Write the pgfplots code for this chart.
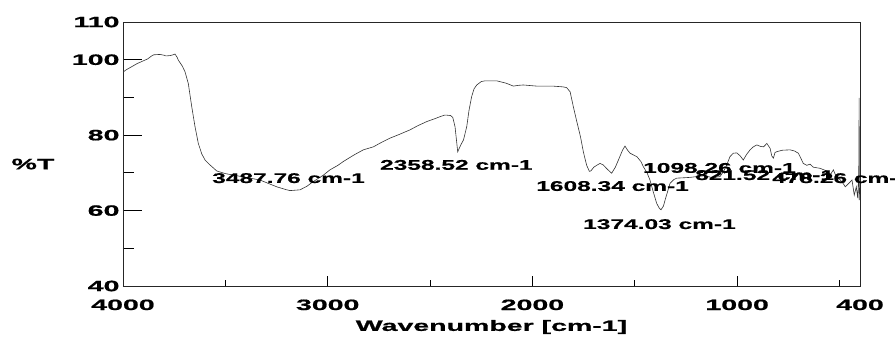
\documentclass[border=0pt]{standalone}
\usepackage{fontspec}
\setmainfont{Liberation Sans}
\newfontfamily\wf[FakeStretch=1.9,FakeBold=1]{Liberation Sans}
\newfontfamily\lf[FakeStretch=1.75,FakeBold=0.6]{Liberation Sans}
\usepackage{pgfplots}
\pgfplotsset{compat=1.18}
\begin{document}
\begin{tikzpicture}
\begin{axis}[
  scale only axis,
  width=737pt, height=264pt,
  x dir=reverse,
  xmin=400, xmax=4000, ymin=40, ymax=110,
  clip=false,
  axis line style={black!85, line width=0.8pt},
  tick style={black, line width=0.8pt},
  tick align=inside,
  xtick={4000,3000,2000,1000,400},
  xticklabels={4000,3000,2000,1000,400},
  minor xtick={3500,2500,1500,500},
  ytick={40,60,80,100,110},
  yticklabels={40,60,80,100,110},
  minor ytick={50,70,90},
  xtick style={/pgfplots/major tick length=10pt, /pgfplots/minor tick length=6pt},
  ytick style={/pgfplots/major tick length=19pt, /pgfplots/minor tick length=11pt},
  xtick pos=bottom, ytick pos=left,
  tick label style={font=\wf\bfseries\fontsize{15}{15}\selectfont},
  xticklabel style={yshift=-10pt},
  yticklabel style={xshift=0pt},
  xlabel={Wavenumber [cm-1]},
  ylabel={\%T},
  every axis x label/.style={at={(rel axis cs:0.5,0)}, yshift=-41pt, anchor=center, font=\wf\bfseries\fontsize{15}{15}\selectfont},
  every axis y label/.style={at={(rel axis cs:0,0.462)}, xshift=-90pt, anchor=center, font=\wf\bfseries\fontsize{15}{15}\selectfont},
]
\addplot[black!80, line width=0.6pt] coordinates {
(4000,96.7) (3985,97.3) (3930,99.0) (3880,100.2) (3860,101.0) (3850,101.3) (3820,101.4) (3800,101.2) (3790,101.0) (3770,101.1) (3755,101.3) (3746,101.5) (3735,100.6) (3730,99.9) (3710,98.3) (3697,96.8) (3681,93.7) (3664,87.5) (3648,82.2) (3632,77.8) (3615,75.0) (3599,73.4) (3575,72.1) (3542,70.5) (3500,69.8) (3450,69.3) (3400,68.8) (3331,68.1) (3290,67.2) (3249,66.3) (3200,65.5) (3184,65.3) (3135,65.5) (3100,66.5) (3078,67.4) (3050,68.4) (3021,69.4) (2989,70.8) (2950,72.0) (2924,73.0) (2870,74.8) (2826,76.1) (2777,76.9) (2740,78.0) (2696,79.2) (2650,80.2) (2598,81.4) (2560,82.5) (2516,83.6) (2480,84.3) (2451,84.9) (2430,85.3) (2419,85.3) (2400,85.2) (2389,84.7) (2378,82.2) (2365,75.6) (2350,77.4) (2337,78.7) (2321,82.2) (2310,86.5) (2297,90.2) (2285,92.3) (2272,93.3) (2250,94.2) (2232,94.4) (2200,94.4) (2174,94.4) (2130,93.8) (2093,93.0) (2070,93.2) (2044,93.3) (2000,93.1) (1979,93.0) (1900,93.0) (1850,92.8) (1833,92.6) (1816,91.5) (1800,87.5) (1785,84.0) (1765,79.5) (1751,75.5) (1735,72.0) (1722,70.4) (1715,70.5) (1700,71.5) (1686,72.0) (1670,72.5) (1654,72.1) (1635,71.0) (1613,69.9) (1595,71.5) (1580,73.4) (1560,76.0) (1548,77.1) (1535,76.0) (1523,75.2) (1490,74.3) (1470,73.0) (1458,71.6) (1440,70.0) (1426,68.1) (1410,65.0) (1393,61.9) (1380,60.6) (1372,60.2) (1360,61.2) (1352,62.8) (1340,65.0) (1328,67.2) (1310,68.2) (1295,68.6) (1260,68.7) (1230,68.8) (1200,69.0) (1165,69.2) (1140,69.0) (1116,68.6) (1100,68.9) (1084,69.0) (1065,70.5) (1051,72.1) (1035,74.3) (1019,75.2) (1002,75.3) (985,74.5) (970,73.4) (955,74.8) (937,76.1) (921,76.9) (904,77.4) (885,77.0) (871,76.9) (855,77.8) (839,76.5) (831,74.5) (823,73.9) (815,75.4) (807,75.6) (780,76.0) (742,76.1) (720,75.8) (701,75.2) (690,74.0) (677,72.5) (660,72.0) (644,72.3) (628,71.5) (595,71.2) (562,70.5) (546,69.4) (530,70.8) (520,69.5) (496,68.1) (480,67.0) (472,66.3) (455,67.2) (439,68.1) (428,64.1) (418,66.3) (411,63.3) (406,70.0) (404,89.9) (403.5,62.8) (402,65.5) (400,66.0)
};
\node[anchor=west, inner sep=0pt, font=\lf\bfseries\fontsize{14}{14}\selectfont] at (axis cs:3565,68.6) {3487.76 cm-1};
\node[anchor=west, inner sep=0pt, font=\lf\bfseries\fontsize{14}{14}\selectfont] at (axis cs:2745,72.1) {2358.52 cm-1};
\node[anchor=west, inner sep=0pt, font=\lf\bfseries\fontsize{14}{14}\selectfont] at (axis cs:1982,66.5) {1608.34 cm-1};
\node[anchor=west, inner sep=0pt, font=\lf\bfseries\fontsize{14}{14}\selectfont] at (axis cs:1753,56.4) {1374.03 cm-1};
\node[anchor=west, inner sep=0pt, font=\lf\bfseries\fontsize{14}{14}\selectfont] at (axis cs:1460,71.3) {1098.26 cm-1};
\node[anchor=west, inner sep=0pt, font=\lf\bfseries\fontsize{14}{14}\selectfont] at (axis cs:1206,69.4) {821.52 cm-1};
\node[anchor=west, inner sep=0pt, font=\lf\bfseries\fontsize{14}{14}\selectfont] at (axis cs:830,68.6) {478.26 cm-1};
\end{axis}
\pgfresetboundingbox
\path (-123pt,-51pt) rectangle (772pt,286pt);
\end{tikzpicture}
\end{document}
